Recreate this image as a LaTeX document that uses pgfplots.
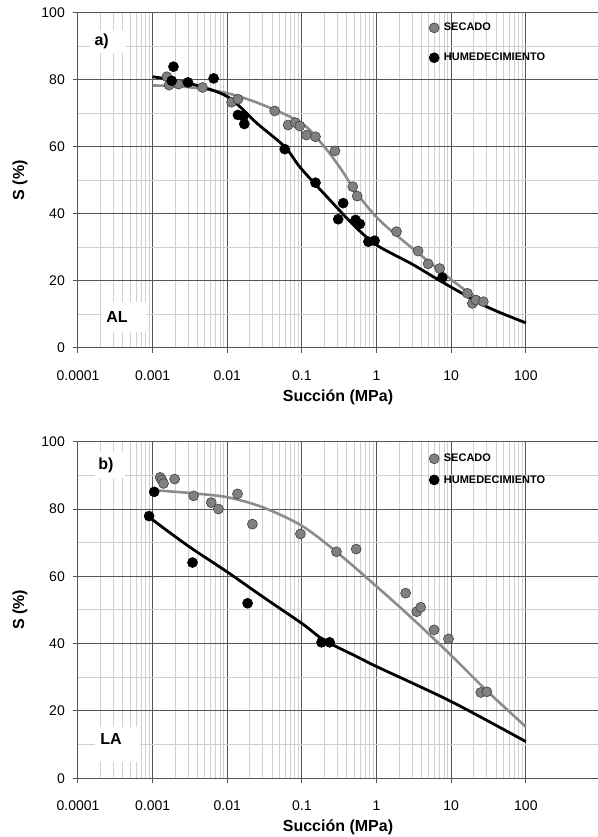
\documentclass[border=0pt]{standalone}
\usepackage{fontspec}
\setmainfont{Liberation Sans}
\usepackage{pgfplots}
\pgfplotsset{compat=1.18}

\definecolor{secado}{HTML}{808080}
\definecolor{secadoedge}{HTML}{404040}
\definecolor{secadoline}{HTML}{8C8C8C}
\definecolor{majgrid}{HTML}{555555}
\definecolor{mingrid}{HTML}{D0D0D0}

% legend shows a single marker per entry
\pgfplotsset{
  legend image code/.code={\draw[#1] plot coordinates {(0bp,0bp)};},
}

\pgfplotsset{
  suction/.style={
    scale only axis, width=520bp,
    xmin=1e-4, xmax=925, ymin=0, ymax=100,
    axis lines=left, axis line style={-, majgrid, line width=1bp},
    xtick={1e-4,1e-3,0.01,0.1,1,10,100},
    xticklabels={0.0001,0.001,0.01,0.1,1,10,100},
    ytick={0,20,...,100},
    minor ytick={10,30,50,70,90},
    grid=both,
    major grid style={majgrid, line width=1bp},
    minor grid style={mingrid, line width=1bp},
    tick align=outside, major tick length=5bp, minor tick length=0pt,
    tick style={majgrid, line width=1bp},
    ticklabel style={font=\fontsize{14bp}{16bp}\selectfont},
    /pgf/number format/assume math mode=true,
    xticklabel style={anchor=center, inner sep=0pt, yshift=-22.7bp},
    yticklabel style={anchor=east, inner sep=0pt, xshift=-8bp},
    every axis x label/.style={at={(axis description cs:0.5,0)}, yshift=-49bp,
      anchor=center, font=\bfseries\fontsize{16bp}{19bp}\selectfont},
    every axis y label/.style={at={(axis description cs:-0.1115,0.5)}, rotate=90,
      anchor=center, font=\bfseries\fontsize{16bp}{19bp}\selectfont},
    xlabel={Succión (MPa)}, ylabel={S (\%)},
    clip=false,
    legend cell align=left,
    legend style={draw=none, fill=none, inner sep=0pt, anchor=north west,
      font=\bfseries\fontsize{11bp}{13bp}\selectfont,
      nodes={inner sep=1bp}, column sep=3.7bp},
  },
  dry/.style={only marks, mark=*, mark size=5bp,
    mark options={fill=secado, draw=secadoedge, line width=0.6bp}},
  wet/.style={only marks, mark=*, mark size=5bp,
    mark options={fill=black, draw=black, line width=0.6bp}},
  dryfit/.style={smooth, no markers, secadoline, line width=2.6bp, forget plot},
  wetfit/.style={smooth, no markers, black, line width=2.8bp, forget plot},
}
\tikzset{tag/.style={font=\bfseries\fontsize{16bp}{19bp}\selectfont, inner sep=0pt}}

\begin{document}
\begin{tikzpicture}
\useasboundingbox (0,0) rectangle (598bp,837bp);

% ---------------- a) AL ----------------
\begin{axis}[xmode=log, suction, height=335.3bp, at={(78bp,489bp)}, anchor=south west,
  legend style={at={(axis description cs:0.675,0.972)}, row sep=18.7bp}]
\fill[white] (rel axis cs:0.0231,0.8798) rectangle (rel axis cs:0.0923,0.9484);
\node[tag] at (rel axis cs:0.0456,0.9135) {a)};
\fill[white] (rel axis cs:0.0462,0.0477) rectangle (rel axis cs:0.1308,0.1372);
\node[tag] at (rel axis cs:0.075,0.0933) {AL};

\addplot[dryfit] table {
x y
0.001 78.3
0.003 77.8
0.01 76.0
0.03 72.5
0.1 67.0
0.2 60.0
0.33 53.5
0.55 46.0
1 39.0
2 33.0
10 20.4
20 15.5
25 14.5
};
\addplot[wetfit] table {
x y
0.001 80.9
0.003 79.0
0.01 75.0
0.025 67.0
0.059 60.0
0.096 53.7
0.24 44.0
0.5 36.5
1 30.7
3 25.0
7.4 19.8
30 12.3
100 7.5
};
\addplot[dry] table {
x y
0.00155 80.9
0.00166 78.4
0.00222 78.7
0.00466 77.7
0.0114 73.3
0.0139 74.2
0.0432 70.7
0.0653 66.5
0.0818 67.2
0.0934 66.2
0.115 63.5
0.152 63.0
0.277 58.8
0.48 48.1
0.55 45.3
1.85 34.7
3.6 28.9
4.9 25.1
7.0 23.7
16.5 16.3
19.2 13.3
21.4 14.3
26.9 13.8
};
\addlegendentry{SECADO}
\addplot[wet] table {
x y
0.0019 83.9
0.0018 79.7
0.00297 79.2
0.00656 80.4
0.0139 69.5
0.0166 69.2
0.0169 66.8
0.0588 59.3
0.152 49.3
0.357 43.2
0.306 38.4
0.523 38.2
0.597 37.0
0.776 31.7
0.94 32.0
7.6 21.0
};
\addlegendentry{HUMEDECIMIENTO}
\end{axis}

% ---------------- b) LA ----------------
\begin{axis}[xmode=log, suction, height=336.6bp, at={(78bp,58.7bp)}, anchor=south west,
  legend style={at={(axis description cs:0.675,0.9665)}, row sep=10bp}]
\fill[white] (rel axis cs:0.0327,0.8913) rectangle (rel axis cs:0.0904,0.9703);
\node[tag] at (rel axis cs:0.0538,0.9308) {b)};
\fill[white] (rel axis cs:0.0327,0.0493) rectangle (rel axis cs:0.1192,0.1533);
\node[tag] at (rel axis cs:0.0635,0.1159) {LA};

\addplot[dryfit] table {
x y
0.001 85.6
0.003 84.8
0.01 83.5
0.03 80.5
0.1 75.0
0.3 67.0
1 57.0
3 47.5
10 36.5
30 26.0
100 15.3
};
\addplot[wetfit] table {
x y
0.0009 77.9
0.001 76.8
0.003 69.0
0.01 61.3
0.03 53.9
0.1 46.0
0.2 41.0
0.61 35.6
1 33.2
10 22.8
100 10.9
};
\addplot[dry] table {
x y
0.00126 89.4
0.00133 88.6
0.00140 87.6
0.00197 88.9
0.00354 83.9
0.0061 81.9
0.0076 80.0
0.0137 84.5
0.0217 75.5
0.0955 72.6
0.29 67.3
0.533 68.1
2.45 55.0
3.45 49.5
3.9 50.8
5.9 44.1
9.2 41.4
24.9 25.5
30 25.7
};
\addlegendentry{SECADO}
\addplot[wet] table {
x y
0.000897 77.9
0.00105 85.1
0.00342 64.1
0.0187 52.0
0.183 40.4
0.235 40.4
};
\addlegendentry{HUMEDECIMIENTO}
\end{axis}
\end{tikzpicture}
\end{document}
